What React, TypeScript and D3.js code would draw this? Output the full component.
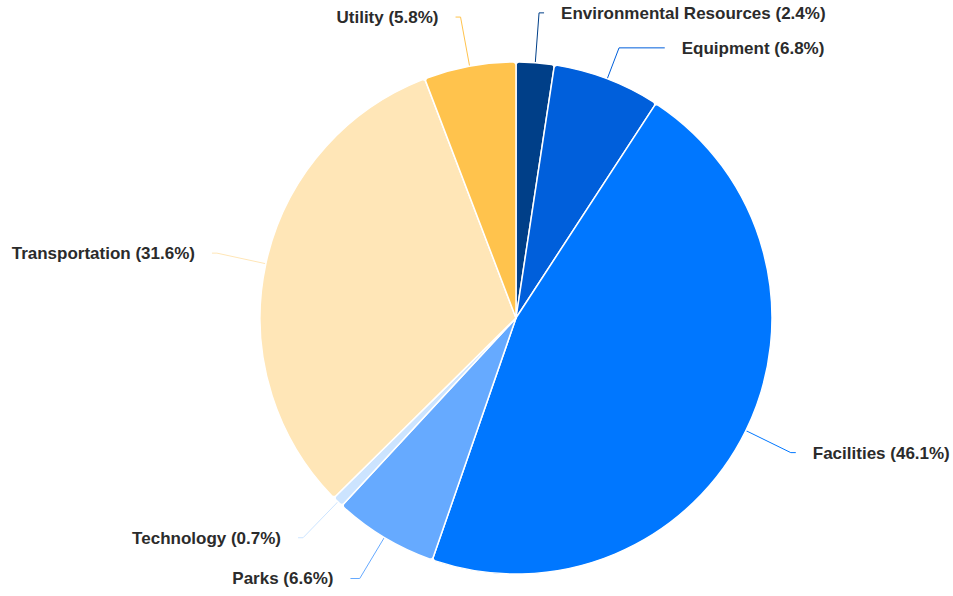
import React from "react";
import * as d3 from "d3";

const categories = ["Environmental Resources", "Equipment", "Facilities", "Parks", "Technology", "Transportation", "Utility"];
const shares = [2.4, 6.8, 46.1, 6.6, 0.7, 31.6, 5.8];
const colors = ["#003f88", "#005fdb", "#0077ff", "#66aaff", "#cce4ff", "#ffe6b7", "#ffc34d"];

const W = 953;
const H = 596;
const CX = 516;
const CY = 318;
const R = 256;
const LABEL_R = 306;
const SPACING = 35;
const PAD = 5;
const TEXT_GAP = 17;

export default function App() {
  const pie = d3.pie<number>().sort(null).value((d) => d);
  const arcs = pie(shares);
  const arcGen = d3.arc<d3.PieArcDatum<number>>().innerRadius(0).outerRadius(R).cornerRadius(3);

  type L = { i: number; mid: number; y: number; right: boolean };
  const labels: L[] = arcs.map((a, i) => {
    const mid = (a.startAngle + a.endAngle) / 2;
    return { i, mid, y: CY - LABEL_R * Math.cos(mid), right: mid < Math.PI };
  });
  [true, false].forEach((side) => {
    const group = labels.filter((l) => l.right === side).sort((a, b) => a.y - b.y);
    for (let k = 1; k < group.length; k++) {
      if (group[k].y - group[k - 1].y < SPACING) group[k].y = group[k - 1].y + SPACING;
    }
    const maxY = H - SPACING / 2;
    for (let k = group.length - 1; k >= 0; k--) {
      const lim = k === group.length - 1 ? maxY : group[k + 1].y - SPACING;
      if (group[k].y > lim) group[k].y = lim;
    }
  });

  const items = labels.map((l) => {
    const dy = l.y - CY;
    const dx = Math.sqrt(Math.max(LABEL_R * LABEL_R - dy * dy, 0)) + PAD;
    const x = l.right ? CX + dx : CX - dx;
    const ex = CX + R * Math.sin(l.mid);
    const ey = CY - R * Math.cos(l.mid);
    const t = (CY - l.y) / Math.cos(l.mid);
    const crookX = CX + t * Math.sin(l.mid);
    let path = `M${x},${l.y}`;
    if (l.right ? crookX <= x && crookX >= ex : crookX >= x && crookX <= ex) {
      path += `L${crookX},${l.y}`;
    }
    path += `L${ex},${ey}`;
    return { ...l, x, path };
  });

  return (
    <svg width={W} height={H} style={{ position: "absolute", left: 0, top: 0, fontFamily: "'Liberation Sans', Arial, sans-serif" }}>
      <rect width={W} height={H} fill="#ffffff" />
      <g>
        {items.map((it) => (
          <path key={"c" + it.i} d={it.path} fill="none" stroke={colors[it.i]} strokeWidth={1} />
        ))}
      </g>
      <g transform={`translate(${CX},${CY})`}>
        {arcs.map((a, i) => (
          <path key={i} d={arcGen(a) || ""} fill={colors[i]} stroke="#ffffff" strokeWidth={1.5} strokeLinejoin="round" />
        ))}
      </g>
      <g>
        {items.map((it) => (
          <text
            key={"t" + it.i}
            x={it.right ? it.x + TEXT_GAP : it.x - TEXT_GAP}
            y={it.y}
            dy="0.35em"
            textAnchor={it.right ? "start" : "end"}
            fontSize={17}
            fontWeight="bold"
            fill="#2b2b2b"
          >
            {`${categories[it.i]} (${shares[it.i].toFixed(1)}%)`}
          </text>
        ))}
      </g>
    </svg>
  );
}
